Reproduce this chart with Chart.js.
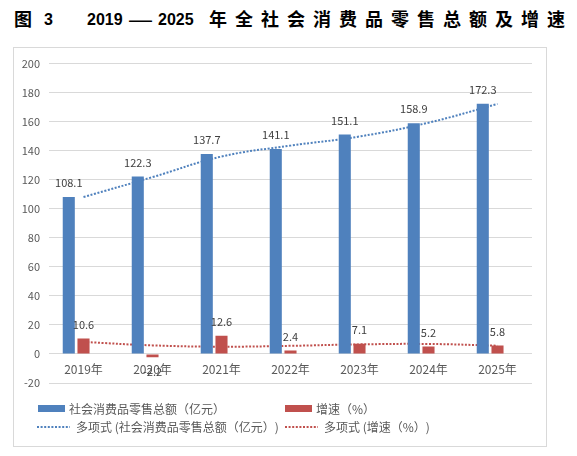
<!DOCTYPE html>
<html>
<head>
<meta charset="utf-8">
<script src="https://cdn.jsdelivr.net/npm/chart.js@4.4.1/dist/chart.umd.min.js"></script>
<style>
  body { margin: 0; background: #fff; width: 577px; height: 456px; position: relative; overflow: hidden; }
  .t { position: absolute; top: 9px; line-height: 22px; font-weight: bold; color: #000; white-space: nowrap;
       font-family: "Liberation Sans", "Noto Sans CJK SC", sans-serif; }
  .cjk { font-size: 18px; }
  .num { font-size: 16px; }
  .dash { font-size: 23px; top: 8px; font-weight: normal; }
  #box { position: absolute; left: 13px; top: 47px; width: 534px; height: 400px;
         border: 1px solid #d9d9d9; box-sizing: border-box; }
</style>
</head>
<body>
<span class="t cjk" style="left:14px">图</span>
<span class="t num" style="left:44px">3</span>
<span class="t num" style="left:87px">2019</span>
<span class="t dash" style="left:129px">—</span>
<span class="t num" style="left:158px">2025</span>
<span class="t cjk" style="left:209px;letter-spacing:8px">年全社会消费品零售总额及增速</span>
<div id="box"><canvas id="salesChart"></canvas></div>
<script>
const years = ["2019年", "2020年", "2021年", "2022年", "2023年", "2024年", "2025年"]
const retailSales = [108.1, 122.3, 137.7, 141.1, 151.1, 158.9, 172.3]
const growthRate = [10.6, -2.2, 12.6, 2.4, 7.1, 5.2, 5.8]
// polynomial trendlines at each year
const salesTrend = [108.1, 121.8, 136.0, 143.5, 149.8, 159.3, 172.2]
const growthTrend = [8.3, 5.9, 5.0, 5.6, 6.6, 6.9, 5.7]
const valueTicks = [-20, 0, 20, 40, 60, 80, 100, 120, 140, 160, 180, 200]

const BLUE = "#4f81bd"
const RED = "#c0504d"
const FONT = "'Noto Sans CJK SC', sans-serif"

// value labels above (or below) each bar
const barLabels = {
  id: "barLabels",
  afterDatasetsDraw(chart) {
    const ctx = chart.ctx
    ctx.save()
    ctx.font = "11px " + FONT
    ctx.fillStyle = "#404040"
    ctx.textAlign = "center"
    ctx.textBaseline = "middle"
    chart.data.datasets.forEach((ds, i) => {
      if (!ds.showValues) return
      chart.getDatasetMeta(i).data.forEach((bar, j) => {
        const v = ds.data[j]
        const y = v >= 0 ? bar.y - 14 : bar.y + 15
        ctx.fillText(String(v), bar.x, y)
      })
    })
    ctx.restore()
  },
}

// two-column legend like the Excel one
const gridLegend = {
  id: "gridLegend",
  afterDraw(chart) {
    const ctx = chart.ctx
    const items = [
      { ds: 0, x: 24, y: 361 },
      { ds: 1, x: 271, y: 361 },
      { ds: 3, x: 23, y: 379 },
      { ds: 4, x: 271, y: 379 },
    ]
    ctx.save()
    ctx.font = "12px " + FONT
    ctx.textBaseline = "middle"
    ctx.textAlign = "left"
    items.forEach((item) => {
      const ds = chart.data.datasets[item.ds]
      if (ds.type === "line") {
        ctx.strokeStyle = ds.borderColor
        ctx.lineWidth = ds.borderWidth
        ctx.setLineDash(ds.borderDash)
        ctx.beginPath()
        ctx.moveTo(item.x, item.y)
        ctx.lineTo(item.x + 33, item.y)
        ctx.stroke()
        ctx.setLineDash([])
        ctx.fillStyle = "#595959"
        ctx.fillText(ds.label, item.x + 39, item.y)
      } else {
        ctx.fillStyle = ds.backgroundColor
        ctx.fillRect(item.x, item.y - 4, 27, 7)
        ctx.fillStyle = "#595959"
        ctx.fillText(ds.label, item.x + 31, item.y)
      }
    })
    ctx.restore()
  },
}

new Chart(document.getElementById("salesChart"), {
  type: "bar",
  data: {
    labels: years,
    datasets: [
      { label: "社会消费品零售总额（亿元）", data: retailSales, backgroundColor: BLUE, order: 1, showValues: true },
      { label: "增速（%）", data: growthRate, backgroundColor: RED, order: 1, showValues: true },
      { label: "", data: years.map(() => null), backgroundColor: "transparent", order: 1 },
      {
        type: "line",
        label: "多项式 (社会消费品零售总额（亿元）)",
        data: salesTrend,
        borderColor: BLUE,
        borderWidth: 2,
        borderDash: [2, 1.6],
        pointRadius: 0,
        tension: 0.4,
        fill: false,
        order: 2,
      },
      {
        type: "line",
        label: "多项式 (增速（%）)",
        data: growthTrend,
        borderColor: RED,
        borderWidth: 2,
        borderDash: [2, 1.6],
        pointRadius: 0,
        tension: 0.4,
        fill: false,
        order: 2,
      },
    ],
  },
  options: {
    responsive: true,
    maintainAspectRatio: false,
    animation: false,
    categoryPercentage: 0.64,
    barPercentage: 0.82,
    layout: { padding: { top: 13, right: 14, bottom: 63, left: 0 } },
    plugins: {
      legend: { display: false },
      tooltip: { enabled: false },
    },
    scales: {
      x: {
        position: { y: 0 },
        grid: { display: false, drawTicks: false },
        border: { display: false },
        ticks: { color: "#595959", font: { family: FONT, size: 12 }, padding: 8 },
      },
      y: {
        min: -20,
        max: 200,
        afterBuildTicks: (scale) => {
          scale.ticks = valueTicks.map((v) => ({ value: v }))
        },
        afterFit: (scale) => {
          scale.width = 35
        },
        grid: { color: "#d9d9d9", lineWidth: 1, drawTicks: false },
        border: { display: false },
        ticks: { color: "#595959", font: { family: FONT, size: 11 }, padding: 9 },
      },
    },
  },
  plugins: [barLabels, gridLegend],
})
</script>
</body>
</html>
